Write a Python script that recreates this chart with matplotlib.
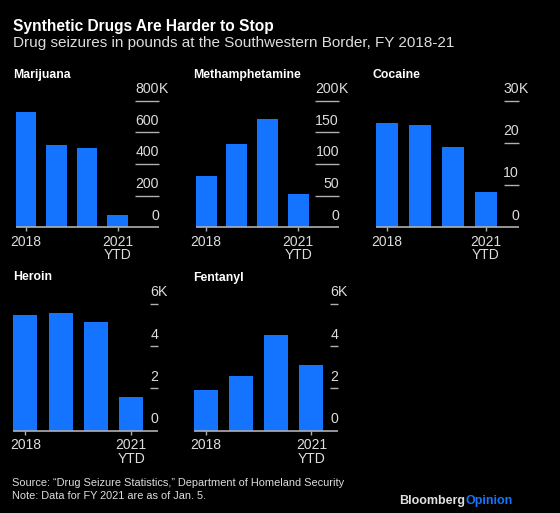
import matplotlib.pyplot as plt

# =========================
# DATA
# =========================
YEARS = ["2018", "", "", "2021\nYTD"]

MARIJUANA = [730, 518, 501, 76]        # thousand lbs
METH = [81.5, 131, 170.6, 52.6]
COCAINE = [24.8, 24.3, 19.0, 8.4]
HEROIN = [5.47, 5.56, 5.17, 1.61]
FENTANYL = [1.93, 2.61, 4.53, 3.10]

MARIJUANA_TICKS = [0, 200, 400, 600, 800]
METH_TICKS = [0, 50, 100, 150, 200]
COCAINE_TICKS = [0, 10, 20, 30]
HEROIN_TICKS = [0, 2, 4, 6]
FENTANYL_TICKS = [0, 2, 4, 6]

# =========================
# STYLE / LAYOUT
# =========================
W, H = 560, 513
BG = "black"
BLUE = "#1574ff"
GRID = "#b0b0b0"
TXT = "#dddddd"
FONT = ["Liberation Sans", "DejaVu Sans"]
BAR_FRAC = 0.68

plt.rcParams["font.family"] = FONT

# pixel layout per panel:
# title, values, ticks, title x, title y, bar start, bar end, grid start, right edge, top, baseline
PANELS = [
    ("Marijuana", MARIJUANA, MARIJUANA_TICKS, 12.7, 75, 15.7, 128, 135, 159, 100.7, 227.3),
    ("Methamphetamine", METH, METH_TICKS, 192.7, 75, 195.7, 308.7, 315, 339, 100.7, 227.3),
    ("Cocaine", COCAINE, COCAINE_TICKS, 372.7, 75, 375.7, 497, 504, 519, 100.7, 227.3),
    ("Heroin", HEROIN, HEROIN_TICKS, 12.7, 277.5, 13.3, 143.3, 150, 158.3, 304, 430.7),
    ("Fentanyl", FENTANYL, FENTANYL_TICKS, 193.3, 277.5, 194.3, 323.3, 330, 338.3, 304, 430.7),
]


def draw_panel(fig, title, values, ticks, tx, ty, x0, x1, gx, xr, top, base):
    pitch = (x1 - x0) / (3 + BAR_FRAC)
    c0 = x0 + pitch * BAR_FRAC / 2
    ax = fig.add_axes([x0 / W, 1 - base / H, (xr - x0) / W, (base - top) / H])
    ax.set_facecolor(BG)
    ax.bar(range(len(values)), values, width=BAR_FRAC, color=BLUE, zorder=2)

    xmin = -BAR_FRAC / 2
    xmax = (xr - c0) / pitch
    gmin = (gx - c0) / pitch
    ax.set_xlim(xmin, xmax)
    ax.set_ylim(0, ticks[-1])

    # -------------------------
    # baseline + short gridlines on the right
    # -------------------------
    ax.hlines(0, xmin, xmax, color=GRID, lw=1.2, zorder=3, clip_on=False)
    ax.hlines(ticks[1:], gmin, xmax, color=GRID, lw=1, zorder=1, clip_on=False)

    for t in ticks:
        ax.annotate(f"{t:g}", (xmax, t), xytext=(0, 5.5), textcoords="offset points",
                    ha="right", va="baseline", color=TXT, fontsize=10.2,
                    annotation_clip=False)
    ax.annotate("K", (xmax, ticks[-1]), xytext=(0, 5.5), textcoords="offset points",
                ha="left", va="baseline", color=TXT, fontsize=10.2,
                annotation_clip=False)

    ax.set_xticks([0, 3])
    ax.set_xticklabels([YEARS[0], YEARS[3]], color=TXT, fontsize=10,
                       linespacing=0.95)
    ax.tick_params(axis="x", length=3, width=1, color=GRID, pad=2.5)
    ax.set_yticks([])
    for s in ax.spines.values():
        s.set_visible(False)

    fig.text(tx / W, 1 - ty / H, title, color="white", fontsize=8.8,
             fontweight="bold", ha="left", va="center")


fig = plt.figure(figsize=(W / 100, H / 100), dpi=100, facecolor=BG)

fig.text(12.7 / W, 1 - 27 / H, "Synthetic Drugs Are Harder to Stop", color="white",
         fontsize=11.2, fontweight="bold", ha="left", va="center")
fig.text(12.7 / W, 1 - 43.5 / H,
         "Drug seizures in pounds at the Southwestern Border, FY 2018-21",
         color=TXT, fontsize=11, ha="left", va="center")

for p in PANELS:
    draw_panel(fig, *p)

fig.text(11.7 / W, 1 - 483.5 / H,
         "Source: \u201cDrug Seizure Statistics,\u201d Department of Homeland Security",
         color=TXT, fontsize=7.9, ha="left", va="center")
fig.text(11.7 / W, 1 - 496 / H, "Note: Data for FY 2021 are as of Jan. 5.",
         color=TXT, fontsize=7.9, ha="left", va="center")

brand = fig.text(399 / W, 1 - 501 / H, "Bloomberg", color="#e0e0e0", fontsize=9,
                 fontweight="bold", ha="left", va="center")
fig.canvas.draw()
bb = brand.get_window_extent()
fig.text(bb.x1 / W, 1 - 501 / H, "Opinion", color=BLUE, fontsize=9,
         fontweight="bold", ha="left", va="center")

fig.savefig("out.png", dpi=100, facecolor=BG)
